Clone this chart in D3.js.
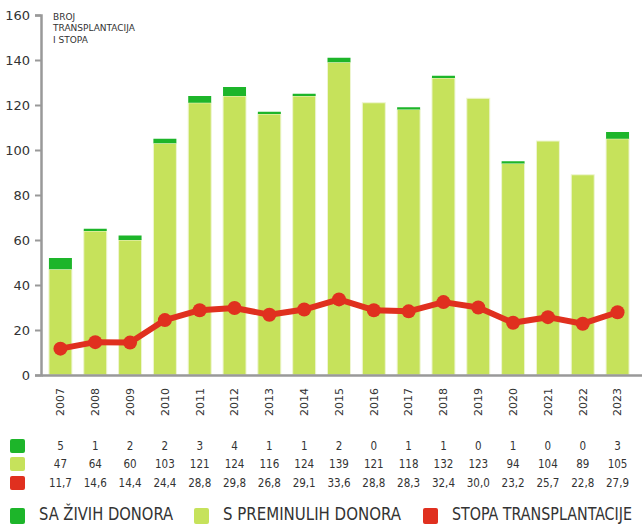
<!DOCTYPE html>
<html>
<head>
<meta charset="utf-8">
<script src="https://cdn.jsdelivr.net/npm/d3@7"></script>
<style>
  body { margin: 0; background: #fff; }
  svg { font-family: "DejaVu Sans", sans-serif; }
</style>
</head>
<body>
<div id="chart"></div>
<script>
// data
const years = ["2007","2008","2009","2010","2011","2012","2013","2014","2015","2016","2017","2018","2019","2020","2021","2022","2023"]
const living = [5, 1, 2, 2, 3, 4, 1, 1, 2, 0, 1, 1, 0, 1, 0, 0, 3]
const deceased = [47, 64, 60, 103, 121, 124, 116, 124, 139, 121, 118, 132, 123, 94, 104, 89, 105]
const rate = [11.7, 14.6, 14.4, 24.4, 28.8, 29.8, 26.8, 29.1, 33.6, 28.8, 28.3, 32.4, 30.0, 23.2, 25.7, 22.8, 27.9]
const yTicks = [0, 20, 40, 60, 80, 100, 120, 140, 160]
const titleLines = ["BROJ", "TRANSPLANTACIJA", "I STOPA"]
const legendItems = ["SA ŽIVIH DONORA", "S PREMINULIH DONORA", "STOPA TRANSPLANTACIJE"]

const w = 642
const h = 526
const colLiving = "#1db52a"
const colDeceased = "#c6e25b"
const colRate = "#e0301f"
const condensed = "'DejaVu Sans Condensed', 'DejaVu Sans', sans-serif"

const svg = d3.select("#chart")
  .append("svg")
  .attr("width", w)
  .attr("height", h)

const x = d3.scaleBand()
  .domain(years)
  .range([41, 642])
  .paddingInner(0.34)
  .paddingOuter(0.3)
  .align(0.38)

const y = d3.scaleLinear()
  .domain([0, 160])
  .range([375, 15])

// bars: deceased donors at the bottom, living donors stacked on top
svg.selectAll(".dec")
  .data(years)
  .enter()
  .append("rect")
  .attr("class", "dec")
  .attr("x", d => x(d))
  .attr("width", x.bandwidth())
  .attr("y", (d, i) => y(deceased[i]))
  .attr("height", (d, i) => y(0) - y(deceased[i]))
  .attr("fill", colDeceased)
  .attr("stroke", "#eef5d2")
  .attr("stroke-width", 1)

svg.selectAll(".liv")
  .data(years)
  .enter()
  .append("rect")
  .attr("class", "liv")
  .attr("x", d => x(d))
  .attr("width", x.bandwidth())
  .attr("y", (d, i) => y(deceased[i] + living[i]))
  .attr("height", (d, i) => y(deceased[i]) - y(deceased[i] + living[i]))
  .attr("fill", colLiving)

// axes
const yAxis = d3.axisLeft(y).tickValues(yTicks).tickSize(6).tickPadding(5)
const gy = svg.append("g")
  .attr("transform", "translate(41,0)")
  .call(yAxis)
gy.select(".domain").attr("stroke", "#999").attr("stroke-width", 2.5)
gy.selectAll(".tick line").attr("stroke", "#999").attr("stroke-width", 2)
gy.selectAll(".tick text").attr("font-size", 13).attr("fill", "#333")
  .style("font-family", "'DejaVu Sans', sans-serif")

const xAxis = d3.axisBottom(x).tickSize(0).tickSizeOuter(0).tickPadding(0)
const gx = svg.append("g")
  .attr("transform", "translate(0,375)")
  .call(xAxis)
gx.select(".domain").attr("stroke", "#999").attr("stroke-width", 2.5)
gx.selectAll(".tick text")
  .attr("font-size", 11)
  .attr("fill", "#333")
  .style("font-family", "'DejaVu Sans', sans-serif")
  .attr("transform", "rotate(-90)")
  .attr("text-anchor", "end")
  .attr("x", -13)
  .attr("y", 0)
  .attr("dy", "0.35em")

// rate line
const line = d3.line()
  .x((d, i) => x(years[i]) + x.bandwidth() / 2)
  .y(d => y(d))

svg.append("path")
  .datum(rate)
  .attr("d", line)
  .attr("fill", "none")
  .attr("stroke", colRate)
  .attr("stroke-width", 6)
  .attr("stroke-linejoin", "round")

svg.selectAll(".dot")
  .data(rate)
  .enter()
  .append("circle")
  .attr("class", "dot")
  .attr("cx", (d, i) => x(years[i]) + x.bandwidth() / 2)
  .attr("cy", d => y(d))
  .attr("r", 7)
  .attr("fill", colRate)

// axis title
svg.append("text")
  .attr("x", 53)
  .attr("y", 19.5)
  .attr("font-size", 9)
  .attr("fill", "#333")
  .selectAll("tspan")
  .data(titleLines)
  .enter()
  .append("tspan")
  .attr("x", 53)
  .attr("dy", (d, i) => i === 0 ? 0 : 11.5)
  .text(d => d)

// data table under the chart
const rows = [living, deceased, rate]
const rowColors = [colLiving, colDeceased, colRate]
const rowY = [446, 464, 483]
const fmt = v => v.toFixed(1).replace(".", ",")

rows.forEach((vals, r) => {
  svg.append("rect")
    .attr("x", 10)
    .attr("y", rowY[r] - 7)
    .attr("width", 15)
    .attr("height", 14)
    .attr("rx", 2)
    .attr("fill", rowColors[r])
  svg.selectAll(".row" + r)
    .data(vals)
    .enter()
    .append("text")
    .attr("class", "row" + r)
    .attr("x", (d, i) => x(years[i]) + x.bandwidth() / 2)
    .attr("y", rowY[r])
    .attr("dy", "0.35em")
    .attr("text-anchor", "middle")
    .attr("font-size", 11.5)
    .attr("fill", "#333")
    .style("font-family", condensed)
    .text(d => r === 2 ? fmt(d) : d)
})

// legend
const legendX = [10, 194, 423]
const legendLen = [134, 178, 180]
legendItems.forEach((name, i) => {
  svg.append("rect")
    .attr("x", legendX[i])
    .attr("y", 508)
    .attr("width", 15)
    .attr("height", 16)
    .attr("rx", 2)
    .attr("fill", rowColors[i])
  svg.append("text")
    .attr("x", legendX[i] + 29)
    .attr("y", 520)
    .attr("font-size", 17)
    .attr("fill", "#333")
    .style("font-family", condensed)
    .attr("textLength", legendLen[i])
    .attr("lengthAdjust", "spacingAndGlyphs")
    .text(name)
})
</script>
</body>
</html>
